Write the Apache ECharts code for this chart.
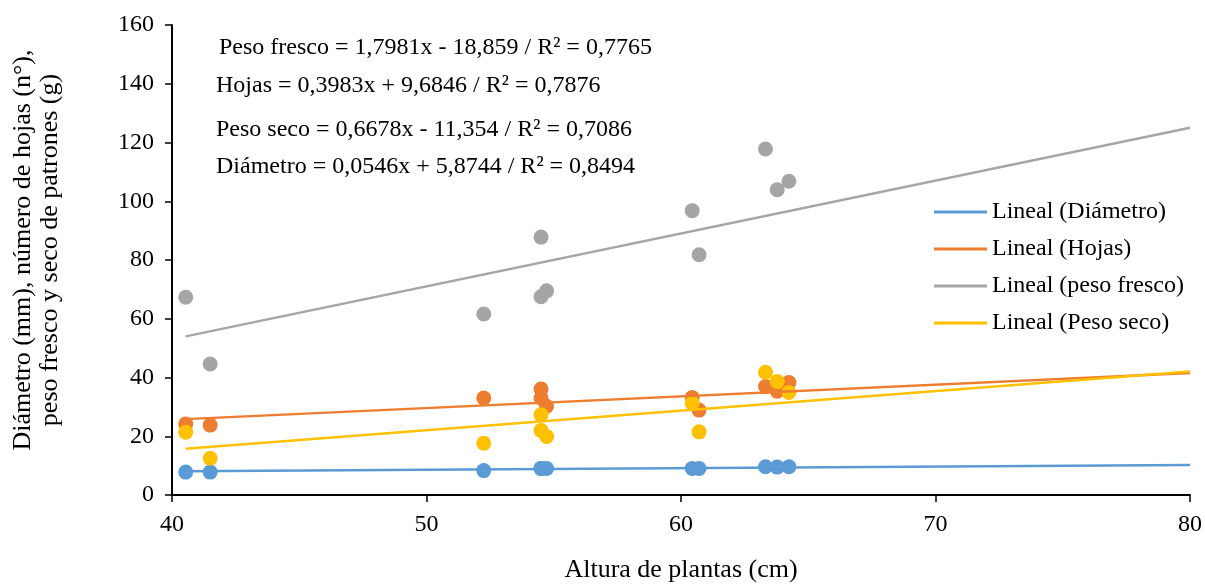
<!DOCTYPE html>
<html>
<head>
<meta charset="utf-8">
<script src="https://cdn.jsdelivr.net/npm/echarts@6/dist/echarts.min.js"></script>
<style>
  html, body { margin: 0; padding: 0; background: #fff; }
  #chart { width: 1205px; height: 588px; }
</style>
</head>
<body>
<div id="chart"></div>
<script>
// altura de plantas (cm)
const alturas = [40.54, 41.50, 52.25, 54.50, 54.50, 54.72, 60.44, 60.71, 63.32, 63.78, 64.24]
const diametro = [7.8, 7.8, 8.3, 9.0, 9.0, 9.0, 9.0, 9.0, 9.6, 9.5, 9.6]
const hojas = [24.2, 23.8, 33.0, 36.1, 33.0, 30.2, 33.2, 28.9, 36.9, 35.3, 38.3]
const pesoFresco = [67.3, 44.6, 61.6, 87.8, 67.5, 69.5, 96.8, 81.8, 117.8, 103.9, 106.8]
const pesoSeco = [21.4, 12.5, 17.6, 27.3, 22.0, 19.9, 31.3, 21.5, 41.8, 38.6, 34.9]

// tendencias lineales (extremos)
const trendX = [40.54, 80]
const trendDiametro = [8.09, 10.24]
const trendHojas = [25.83, 41.55]
const trendFresco = [54.0, 125.0]
const trendSeco = [15.72, 42.07]

const ecuaciones = [
  'Peso fresco = 1,7981x - 18,859 / R² = 0,7765',
  'Hojas = 0,3983x + 9,6846 / R² = 0,7876',
  'Peso seco = 0,6678x - 11,354 / R² = 0,7086',
  'Diámetro = 0,0546x + 5,8744 / R² = 0,8494'
]

const font = '"Liberation Serif", "Times New Roman", serif'
const colors = ['#5B9BD5', '#ED7D31', '#A5A5A5', '#FFC000']

const pairs = (xs, ys) => xs.map((x, i) => [x, ys[i]])

const puntos = [diametro, hojas, pesoFresco, pesoSeco]
const tendencias = [trendDiametro, trendHojas, trendFresco, trendSeco]
const nombres = ['Lineal (Diámetro)', 'Lineal (Hojas)', 'Lineal (peso fresco)', 'Lineal (Peso seco)']

const series = []
puntos.forEach((ys, i) => {
  series.push({
    name: 'serie' + i,
    type: 'scatter',
    symbolSize: 15,
    itemStyle: { color: colors[i], opacity: 1 },
    z: 2,
    data: pairs(alturas, ys)
  })
})
tendencias.forEach((ys, i) => {
  series.push({
    name: nombres[i],
    type: 'line',
    showSymbol: false,
    symbol: 'none',
    lineStyle: { color: colors[i], width: 2.5 },
    itemStyle: { color: colors[i] },
    z: 3,
    data: pairs(trendX, ys)
  })
})

const ecTops = [36, 74, 118, 155]
const ecLefts = [219, 216, 216, 216]

const myChart = echarts.init(document.getElementById('chart'))
myChart.setOption({
  animation: false,
  textStyle: { fontFamily: font },
  grid: { left: 172, right: 13, top: 25, bottom: 91 },
  legend: {
    data: nombres,
    orient: 'vertical',
    left: 929,
    top: 195,
    itemWidth: 53,
    itemHeight: 3,
    icon: 'rect',
    itemGap: 13,
    textStyle: { fontFamily: font, fontSize: 24, color: '#000' }
  },
  graphic: ecuaciones.map((t, i) => ({
    type: 'text',
    left: ecLefts[i],
    top: ecTops[i],
    style: { text: t, font: '24px ' + font, fill: '#000' }
  })),
  xAxis: {
    type: 'value',
    min: 40,
    max: 80,
    interval: 10,
    name: 'Altura de plantas (cm)',
    nameLocation: 'middle',
    nameGap: 62,
    nameTextStyle: { fontFamily: font, fontSize: 26, color: '#000' },
    axisLine: { lineStyle: { color: '#000', width: 2 } },
    axisTick: { show: true, length: 7, lineStyle: { color: '#000', width: 1.5 } },
    axisLabel: { fontFamily: font, fontSize: 24, color: '#000', margin: 18 },
    splitLine: { show: false }
  },
  yAxis: {
    type: 'value',
    min: 0,
    max: 160,
    interval: 20,
    name: 'Diámetro (mm), número de hojas (n°),\npeso fresco y seco de patrones (g)',
    nameLocation: 'middle',
    nameGap: 108,
    nameTextStyle: { fontFamily: font, fontSize: 26, color: '#000', lineHeight: 27, align: 'center', padding: [0, 0, 0, 20] },
    axisLine: { show: true, lineStyle: { color: '#000', width: 2 } },
    axisTick: { show: true, length: 7, lineStyle: { color: '#000', width: 1.5 } },
    axisLabel: { fontFamily: font, fontSize: 24, color: '#000', margin: 18 },
    splitLine: { show: false }
  },
  series
})
</script>
</body>
</html>
